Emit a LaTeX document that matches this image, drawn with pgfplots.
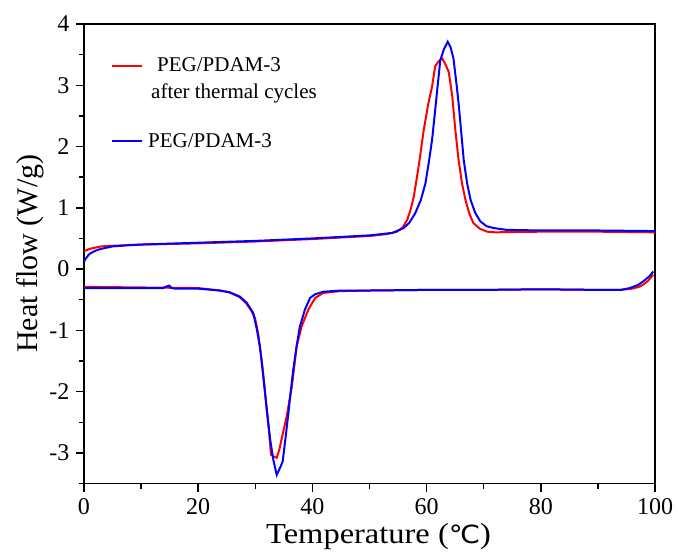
\documentclass[border=0pt]{standalone}
\usepackage{pgfplots}
\pgfplotsset{compat=1.18}
\usepackage{fontspec}
\setmainfont{Liberation Serif}
\newfontfamily\djv{DejaVu Sans}
\begin{document}
\begin{tikzpicture}
\path[use as bounding box] (-84pt,-71.5pt) rectangle (594pt,483.5pt);
\begin{axis}[
  scale only axis, width=571pt, height=459.5pt,
  xmin=0, xmax=100, ymin=-3.5, ymax=4,
  xtick={0,20,...,100}, minor xtick={10,30,...,90},
  ytick={-3,-2,...,4}, minor ytick={-3.5,-2.5,...,3.5},
  xtick pos=bottom, ytick pos=left,
  tick align=outside, major tick length=8pt, minor tick length=5pt,
  axis line style={line width=1.6pt},
  every tick/.style={line width=1.4pt, black},
  /pgf/number format/assume math mode=true,
  tick label style={font=\fontsize{24}{28}\selectfont},
  xticklabel style={yshift=-4pt},
  yticklabel style={xshift=-3pt},
  xlabel={\scalebox{1.12}[1]{Temperature ({\djv\fontsize{25}{30}\selectfont ℃})}}, ylabel={Heat flow (W/g)},
  xlabel style={font=\fontsize{29}{34}\selectfont, at={(axis description cs:0.516,0)}, anchor=base, yshift=-60pt},
  ylabel style={font=\fontsize{30}{34}\selectfont, at={(axis description cs:-0.0946,0.5)}, anchor=center},
  legend cell align=left,
  legend image code/.code={\draw[#1] (0pt,0pt) -- (30pt,0pt);},
  legend style={draw=none, fill=none, at={(axis description cs:0.042,0.931)}, anchor=north west,
    font=\fontsize{21}{26}\selectfont, nodes={inner sep=0pt}, row sep=33pt,
    /tikz/every odd column/.style={column sep=5pt}},
]
\addplot[red, line width=2pt, legend image code/.code={\draw[##1] (0pt,13.5pt) -- (30pt,13.5pt);}] table {
0 0.29
0.5 0.31
1 0.33
2 0.35
3 0.37
5 0.38
10 0.40
20 0.42
30 0.45
40 0.49
50 0.54
53 0.57
54.8 0.61
55.8 0.68
56.6 0.80
57.2 0.97
57.75 1.18
58.6 1.67
59.5 2.27
60.3 2.70
60.96 2.98
61.5 3.31
62.1 3.39
62.7 3.44
63.2 3.36
63.87 3.22
64.5 2.82
65.0 2.30
65.6 1.78
66.2 1.40
66.8 1.13
67.5 0.90
68.2 0.75
69.3 0.66
70.6 0.61
72 0.60
80 0.61
90 0.61
100 0.60
};
\addlegendentry[align=left]{\hspace*{9pt}PEG/PDAM-3\\[1pt]\hspace*{3pt}after thermal cycles}
\addplot[red, line width=2pt, forget plot] table {
0 -0.29
10 -0.30
20 -0.31
23.8 -0.35
25.5 -0.38
27.3 -0.46
28.5 -0.57
29.3 -0.68
29.95 -0.80
30.5 -1.05
31.1 -1.48
31.6 -1.90
32.0 -2.30
32.4 -2.65
32.75 -3.03
33.2 -3.06
33.75 -3.08
34.2 -2.95
34.6 -2.78
35.5 -2.40
36.4 -1.92
37.25 -1.26
38.1 -0.94
39.3 -0.66
40.5 -0.47
41.9 -0.39
44.8 -0.36
50 -0.35
60 -0.34
70 -0.34
80 -0.33
90 -0.34
94 -0.34
96 -0.32
97.2 -0.29
98 -0.25
98.8 -0.19
99.7 -0.09
};
\addplot[blue, line width=2pt] table {
0 0.12
0.3 0.17
0.7 0.22
1 0.25
2 0.30
3 0.33
5 0.37
8 0.39
10 0.40
20 0.43
30 0.46
40 0.50
50 0.55
54 0.59
56.0 0.67
57.0 0.76
58.0 0.91
59.0 1.13
59.8 1.40
60.4 1.75
60.96 2.11
61.4 2.50
61.8 2.87
62.4 3.41
63.0 3.58
63.7 3.71
64.2 3.62
64.7 3.44
65.2 3.05
65.6 2.71
66.1 2.20
66.5 1.78
67.1 1.40
67.7 1.13
68.5 0.92
69.4 0.78
70.5 0.70
71.7 0.67
74 0.64
80 0.63
90 0.63
100 0.62
};
\addlegendentry{PEG/PDAM-3}
\addplot[blue, line width=2pt, forget plot] table {
0 -0.31
10 -0.31
13.8 -0.31
14.6 -0.28
14.9 -0.27
15.4 -0.31
16 -0.32
20 -0.32
23.8 -0.35
25.5 -0.38
27.3 -0.45
28.5 -0.55
29.65 -0.72
30.2 -0.95
30.8 -1.26
31.25 -1.62
31.7 -2.02
32.15 -2.40
32.6 -2.78
33.15 -3.11
33.75 -3.36
34.3 -3.25
34.8 -3.14
35.3 -2.75
35.8 -2.35
36.2 -2.00
36.65 -1.64
37.2 -1.28
37.8 -0.94
38.7 -0.66
39.6 -0.47
40.5 -0.41
41.9 -0.37
45 -0.35
50 -0.35
60 -0.34
70 -0.34
80 -0.33
90 -0.34
94 -0.34
95.6 -0.31
97 -0.26
97.95 -0.20
99 -0.12
99.7 -0.04
};
\end{axis}
\end{tikzpicture}
\end{document}
